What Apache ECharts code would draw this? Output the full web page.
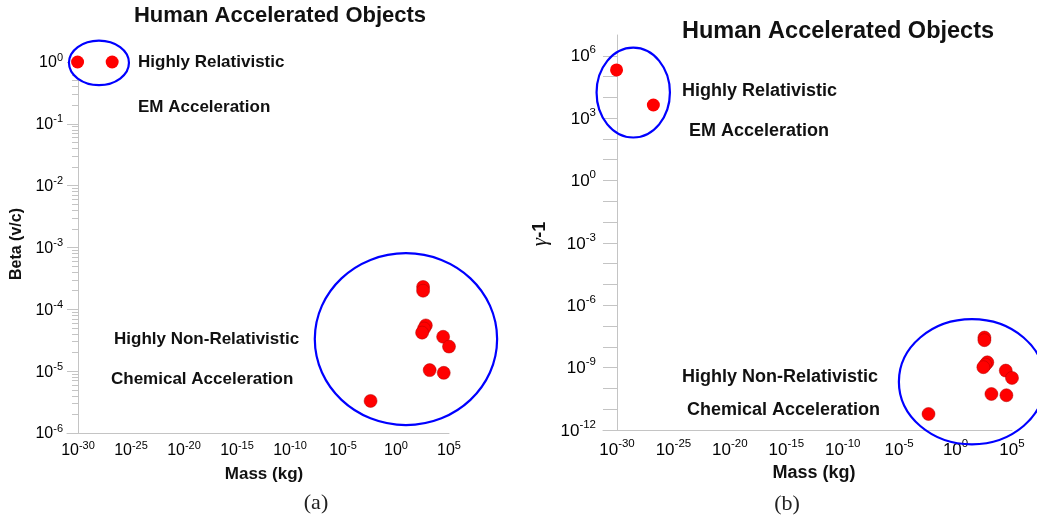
<!DOCTYPE html>
<html>
<head>
<meta charset="utf-8">
<script src="https://cdn.jsdelivr.net/npm/echarts@6/dist/echarts.min.js"></script>
<style>
  html, body { margin: 0; padding: 0; background: #fff; }
  #chart { width: 1037px; height: 520px; }
</style>
</head>
<body>
<div id="chart"></div>
<script>
// Particle beams (EM acceleration): electron, proton
const relMassKg = [9.11e-31, 1.67e-27];
const relBeta = [1, 1];
const relGammaMinus1 = [2.1e5, 4.3e3];

// Chemically accelerated objects
const chemMassKg = [360, 360, 650, 440, 290, 28000, 100000, 1500, 32000, 0.004];
const chemBeta = [2.3e-4, 2.0e-4, 5.5e-5, 4.9e-5, 4.2e-5, 3.6e-5, 2.5e-5, 1.04e-5, 9.4e-6, 3.3e-6];
const chemGammaMinus1 = [2.8e-8, 2.1e-8, 1.8e-9, 1.4e-9, 1.05e-9, 7.2e-10, 3.2e-10, 5.4e-11, 4.7e-11, 5.9e-12];

// Tick labels
const massTickLabels = [1e-30, 1e-25, 1e-20, 1e-15, 1e-10, 1e-5, 1, 1e5];
const betaTickLabels = [1e-6, 1e-5, 1e-4, 1e-3, 1e-2, 1e-1, 1];
const gammaTickLabels = [1e-12, 1e-9, 1e-6, 1e-3, 1, 1e3, 1e6];

// Axis decoration: decade ticks on the gamma axis, 2..9 minor ticks on the beta axis
const gammaDecadeTicks = [];
for (let e = -12; e <= 6; e++) gammaDecadeTicks.push(Math.pow(10, e));
const betaMinorTicks = [];
for (let e = -6; e <= -1; e++) {
  for (let k = 2; k <= 9; k++) betaMinorTicks.push(k * Math.pow(10, e));
}

const FONT = '"Liberation Sans", Arial, Helvetica, sans-serif';
const SERIF = '"Liberation Serif", "DejaVu Serif", serif';
const AXIS_GRAY = '#c4c4c4';

function pow10Label(v) {
  const e = Math.round(Math.log10(v));
  return '{b|10}{s|' + e + '}';
}
function powRich(base, sup) {
  return {
    b: { fontFamily: FONT, fontSize: base, lineHeight: base + 2, color: '#000', verticalAlign: 'bottom' },
    s: { fontFamily: FONT, fontSize: sup, lineHeight: sup + 1, color: '#000', verticalAlign: 'bottom', padding: [0, 0, Math.round(base * 0.5), 0] }
  };
}

// Panel geometry: the x axis line runs one tick length past the y axis
const leftTick = 11, rightTick = 14;
const leftGrid = { left: 67, top: 62, width: 382, height: 371 };
const rightGrid = { left: 603, top: 35, width: 409, height: 395 };
const leftMassMin = Math.pow(10, -30 - leftTick / (371 / 35));
const rightMassMin = Math.pow(10, -30 - rightTick / (395 / 35));

function massAxis(gridIndex, min, base, sup, margin) {
  return {
    type: 'log', gridIndex, min, max: 1e5, logBase: 10,
    axisLine: { show: true, lineStyle: { color: AXIS_GRAY, width: 1 } },
    axisTick: { show: false },
    splitLine: { show: false },
    axisLabel: {
      customValues: massTickLabels, formatter: pow10Label, margin,
      rich: powRich(base, sup)
    }
  };
}

const dotStyle = {
  symbolSize: 13,
  itemStyle: { color: '#ff0000', opacity: 1, borderColor: '#b00000', borderWidth: 0.5 }
};
const beamDotStyle = {
  symbolSize: 13,
  itemStyle: { color: '#ff0000', opacity: 1 }
};

function zip(a, b) { return a.map((v, i) => [v, b[i]]); }

const chart = echarts.init(document.getElementById('chart'), null, { renderer: 'canvas' });

chart.setOption({
  animation: false,
  backgroundColor: '#fff',
  grid: [leftGrid, rightGrid],
  xAxis: [
    massAxis(0, leftMassMin, 16, 11, 8),
    massAxis(1, rightMassMin, 17, 11.5, 10)
  ],
  yAxis: [
    { // beta, decades
      type: 'log', gridIndex: 0, min: 1e-6, max: 1, position: 'left', offset: -leftTick,
      axisLine: { show: true, lineStyle: { color: AXIS_GRAY, width: 1 } },
      axisTick: { show: true, inside: false, length: leftTick, customValues: betaTickLabels, lineStyle: { color: AXIS_GRAY } },
      splitLine: { show: false },
      axisLabel: { customValues: betaTickLabels, formatter: pow10Label, margin: 15, rich: powRich(16, 11) }
    },
    { // beta, minor ticks
      type: 'log', gridIndex: 0, min: 1e-6, max: 1, position: 'left', offset: -leftTick,
      axisLine: { show: false },
      axisTick: { show: true, inside: false, length: 6, customValues: betaMinorTicks, lineStyle: { color: AXIS_GRAY } },
      splitLine: { show: false },
      axisLabel: { show: false }
    },
    { // gamma - 1
      type: 'log', gridIndex: 1, min: 1e-12, max: 1e7, position: 'left', offset: -rightTick,
      axisLine: { show: true, lineStyle: { color: AXIS_GRAY, width: 1 } },
      axisTick: { show: true, inside: false, length: rightTick, customValues: gammaDecadeTicks, lineStyle: { color: AXIS_GRAY } },
      splitLine: { show: false },
      axisLabel: { customValues: gammaTickLabels, formatter: pow10Label, margin: 21, rich: powRich(17, 11.5) }
    }
  ],
  series: [
    Object.assign({ type: 'scatter', xAxisIndex: 0, yAxisIndex: 0, z: 5, data: zip(relMassKg, relBeta) }, beamDotStyle),
    Object.assign({ type: 'scatter', xAxisIndex: 0, yAxisIndex: 0, z: 5, data: zip(chemMassKg, chemBeta) }, dotStyle),
    Object.assign({ type: 'scatter', xAxisIndex: 1, yAxisIndex: 2, z: 5, data: zip(relMassKg, relGammaMinus1) }, beamDotStyle),
    Object.assign({ type: 'scatter', xAxisIndex: 1, yAxisIndex: 2, z: 5, data: zip(chemMassKg, chemGammaMinus1) }, dotStyle)
  ]
});

// Regime outlines, given by centre (data units) and half-extent in decades
const regimeRings = [
  { xAxisIndex: 0, yAxisIndex: 0, center: [9.5e-29, 0.97], halfDecades: [2.83, 0.36], fill: '#ffffff' },
  { xAxisIndex: 0, yAxisIndex: 0, center: [8.7, 3.3e-5], halfDecades: [8.6, 1.39], fill: null },
  { xAxisIndex: 1, yAxisIndex: 2, center: [2.75e-29, 1.7e4], halfDecades: [3.25, 2.16], fill: null },
  { xAxisIndex: 1, yAxisIndex: 2, center: [28, 2.1e-10], halfDecades: [6.47, 3.01], fill: null }
];

const ringGraphics = regimeRings.map(r => {
  const finder = { xAxisIndex: r.xAxisIndex, yAxisIndex: r.yAxisIndex };
  const c = chart.convertToPixel(finder, r.center);
  const px = chart.convertToPixel(finder, [r.center[0] * Math.pow(10, r.halfDecades[0]), r.center[1]]);
  const py = chart.convertToPixel(finder, [r.center[0], r.center[1] * Math.pow(10, r.halfDecades[1])]);
  return {
    type: 'ellipse', silent: true, z: 1,
    shape: { cx: c[0], cy: c[1], rx: Math.abs(px[0] - c[0]), ry: Math.abs(c[1] - py[1]) },
    style: { fill: r.fill || 'none', stroke: '#0000ff', lineWidth: 2.2 }
  };
});

function label(x, y, text, size, opts) {
  return Object.assign({
    type: 'text', x, y, silent: true, z: 10,
    style: Object.assign({
      text, fill: '#111', fontFamily: FONT, fontWeight: 'bold', fontSize: size,
      align: 'left', verticalAlign: 'middle'
    }, (opts && opts.style) || {})
  }, (opts && opts.el) || {});
}

const textGraphics = [
  // Panel (a)
  label(280, 16, 'Human Accelerated Objects', 22, { style: { align: 'center' } }),
  label(138, 62, 'Highly Relativistic', 17),
  label(138, 107, 'EM Acceleration', 17),
  label(114, 339, 'Highly Non-Relativistic', 17),
  label(111, 379, 'Chemical Acceleration', 17),
  label(264, 474, 'Mass (kg)', 17, { style: { align: 'center' } }),
  label(17, 244, 'Beta (v/c)', 16, { style: { align: 'center' }, el: { rotation: Math.PI / 2 } }),
  label(316, 503, '(a)', 22, { style: { align: 'center', fontWeight: 'normal', fontFamily: SERIF, fill: '#222' } }),
  // Panel (b)
  label(838, 32, 'Human Accelerated Objects', 23.5, { style: { align: 'center' } }),
  label(682, 91, 'Highly Relativistic', 18),
  label(689, 131, 'EM Acceleration', 18),
  label(682, 377, 'Highly Non-Relativistic', 18),
  label(687, 410, 'Chemical Acceleration', 18),
  label(814, 473, 'Mass (kg)', 18, { style: { align: 'center' } }),
  {
    type: 'text', x: 540, y: 234, rotation: Math.PI / 2, silent: true, z: 10,
    style: {
      text: '{g|γ}{m|-1}', align: 'center', verticalAlign: 'middle',
      rich: {
        g: { fontFamily: SERIF, fontStyle: 'italic', fontSize: 21, fill: '#111' },
        m: { fontFamily: FONT, fontWeight: 'bold', fontSize: 18, fill: '#111' }
      }
    }
  },
  label(787, 504, '(b)', 22, { style: { align: 'center', fontWeight: 'normal', fontFamily: SERIF, fill: '#222' } })
];

chart.setOption({ graphic: ringGraphics.concat(textGraphics) });
</script>
</body>
</html>
